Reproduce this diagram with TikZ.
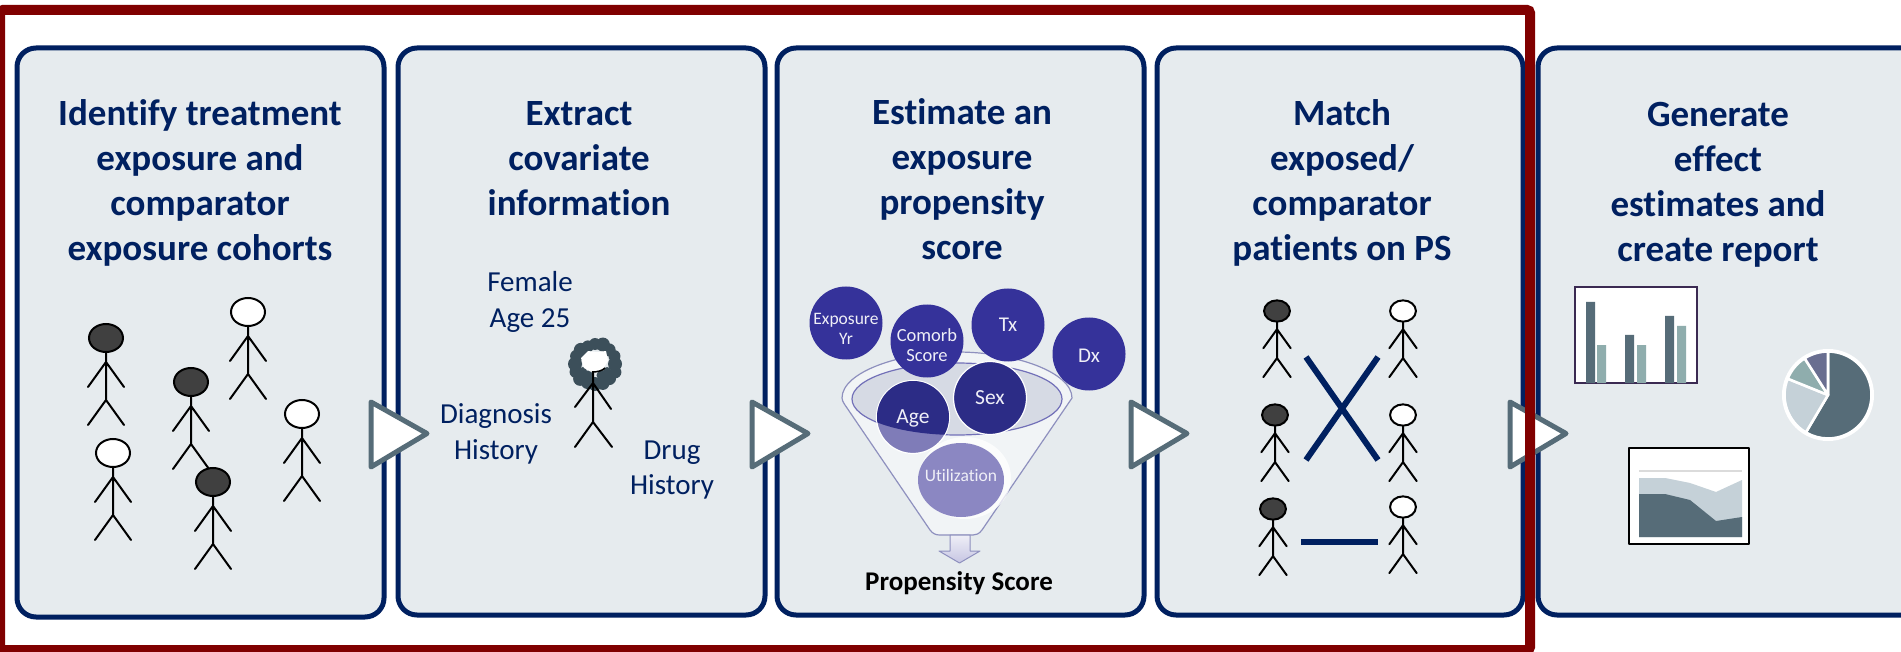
\documentclass[tikz,border=0pt]{standalone}
\usepackage{fontspec}
\setmainfont{Carlito}[RawFeature={-liga}]
\usetikzlibrary{shapes.geometric}
\definecolor{navy}{HTML}{002060}
\definecolor{panelfill}{HTML}{E6EBEE}
\definecolor{slate}{HTML}{566C78}
\definecolor{teal}{HTML}{8FADAD}
\definecolor{mist}{HTML}{C5D1D8}
\definecolor{plum}{HTML}{696E90}
\definecolor{ball}{HTML}{35329A}
\definecolor{balldark}{HTML}{2C2C86}
\definecolor{ballmid}{HTML}{7F7CB8}
\definecolor{balllight}{HTML}{8B87C2}
\definecolor{ringc}{HTML}{8E90BE}
\definecolor{headdark}{HTML}{404040}
\definecolor{hairc}{HTML}{3C4F5A}
\definecolor{frame}{HTML}{800000}
\definecolor{funnelin}{HTML}{D6DAE4}
\definecolor{barframe}{HTML}{3B2A52}
\tikzset{
  panel/.style={draw=navy,fill=panelfill,line width=5pt,rounded corners=19pt},
  paneltitle/.style={text=navy,font=\fontsize{37}{45}\selectfont\bfseries,align=center,inner sep=0pt},
  covar/.style={text=navy,font=\fontsize{29}{35.5}\selectfont,align=center,inner sep=0pt},
  flow/.style={draw=slate,fill=white,line width=5pt,line join=round},
  ballnode/.style={circle,fill=ball,minimum size=73pt,inner sep=0pt,align=center,text=white!92!ball},
  balltext/.style={text=white!92!ball,inner sep=0pt,align=center},
  stick/.style={draw=black,line width=2pt,line cap=round},
  matchline/.style={draw=navy,line width=6pt},
  pics/person/.style args={#1/#2}{code={
    \draw[stick,scale=#2] (0,14) -- (0,62) (-18,49) -- (0,24) -- (18,49) (-18,87) -- (0,62) -- (18,87);
    \draw[fill=#1,draw=black,line width=2pt] (0,0) ellipse [x radius=#2*17, y radius=#2*14];
  }}
}
\begin{document}
\begin{tikzpicture}[x=1pt,y=-1pt]
\useasboundingbox (0,0) rectangle (1901,652);
\fill[white] (0,0) rectangle (1901,652);
% panels
\path[panel] (17,48) rectangle (384,617);
\path[panel] (398,48) rectangle (765,615);
\path[panel] (777,48) rectangle (1144,615);
\path[panel] (1157,48) rectangle (1523,615);
\path[panel] (1538,48) rectangle (1940,615);
% titles
\node[paneltitle] (t1) at (200,182.5) {Identify treatment\\exposure and\\comparator\\exposure cohorts};
\node[paneltitle] (t2) at (579,159) {Extract\\covariate\\information};
\node[paneltitle] (t3) at (962,179.6) {Estimate an\\exposure\\propensity\\score};
\node[paneltitle] (t4) at (1342,183) {Match\\exposed/\\comparator\\patients on PS};
\node[paneltitle] (t5) at (1718,184.5) {Generate\\effect\\estimates and\\create report};
% panel 1 people
\pic at (106,338) {person={headdark/1}};
\pic at (248,312) {person={white/1}};
\pic at (191,382) {person={headdark/1}};
\pic at (302,414) {person={white/1}};
\pic at (113,453) {person={white/1}};
\pic at (213,482) {person={headdark/1}};
% panel 2
\node[covar] (female) at (530,302) {Female\\Age 25};
\node[covar] (diag) at (496,434) {Diagnosis\\History};
\node[covar] (drug) at (672,470) {Drug\\History};
\foreach \a/\r/\s in {0/20/7,22/22/6,45/20/7,68/21/6.5,90/20/7,112/20/6.5,135/21/7,158/21/6,180/20/7,203/20/6.5,225/20/7,248/19/6,270/20/6,292/21/7,315/20/6.5,338/21/6,60/13/5,120/13/5,30/14/4,150/14/4}
  \fill[hairc] ({595+\r*cos(\a)},{364+\r*sin(\a)}) circle[radius=\s];
\fill[white] (581,358) -- (588,351) -- (597,352) -- (606,351) -- (608,361) -- (603,369) -- (593,373) -- (584,368) -- cycle;
\draw[stick] (593,372) -- (593,422) (575,407) -- (593,383) -- (611,409) (575,447) -- (593,422) -- (612,447);
\draw[black,line width=1.5pt] (592,372) .. controls (597,372) and (602,371) .. (605,368);
% panel 3 funnel
\draw[draw=ringc,fill=white!45!panelfill,line width=1.2pt,line join=round]
  (842,398) .. controls (842,372) and (900,352) .. (957,352) .. controls (1014,352) and (1072,372) .. (1072,398)
  -- (982,530) .. controls (979,534) and (976,535) .. (973,535) -- (940,535) .. controls (936,535) and (933,534) .. (930,530) -- (845,405) .. controls (843,402) and (842,400) .. (842,398) -- cycle;
\draw[draw=ball!70!white,fill=funnelin,line width=1.2pt] (957,399) ellipse [x radius=105, y radius=36];
\draw[draw=ringc,top color=white!92!ball,bottom color=ball!28!white,line width=1pt,line join=round]
  (950,535) -- (970,535) -- (970,551) -- (980,551) -- (959.5,563) -- (939,551) -- (950,551) -- cycle;
\node[ballnode] (expo) at (846,323) {};
\node[balltext,font=\fontsize{17.5}{20}\selectfont] (expot) at (846,329) {Exposure\\Yr};
\node[ballnode] (tx) at (1008,325) {\fontsize{21}{22}\selectfont Tx};
\node[ballnode] (dx) at (1089,354) {};
\node[balltext,font=\fontsize{21}{22}\selectfont] (dxt) at (1089,356) {Dx};
\node[ballnode] (comorb) at (927,341) {};
\node[balltext,font=\fontsize{18.5}{20}\selectfont] (comorbt) at (927,345) {Comorb\\Score};
\fill[white,opacity=.75] (965,478) ellipse [x radius=46, y radius=41];
\node[ellipse,fill=balllight,minimum width=86pt,minimum height=74pt,inner sep=0pt] (util) at (961,480) {};
\node[balltext,font=\fontsize{17.5}{19}\selectfont] (utilt) at (961,475) {Utilization};
\node[ballnode,fill=balldark,draw=white,line width=1.2pt] (sex) at (990,398) {\fontsize{21.5}{22}\selectfont Sex};
\node[ballnode,fill=ballmid,draw=white,line width=1.2pt] (agec) at (913,417) {};
\begin{scope}
  \clip (957,399) ellipse [x radius=105, y radius=36];
  \fill[balldark] (913,417) circle[radius=36];
\end{scope}
\node[balltext,font=\fontsize{21.5}{22}\selectfont] (age) at (913,418) {Age};
\node[font=\fontsize{27}{28}\selectfont\bfseries,text=black,inner sep=0pt] (ps) at (959,583) {Propensity Score};
% panel 4
\pic at (1277,311) {person={headdark/.76}};
\pic at (1275,415) {person={headdark/.76}};
\pic at (1273,509) {person={headdark/.76}};
\pic at (1403,311) {person={white/.76}};
\pic at (1403,415) {person={white/.76}};
\pic at (1403,507) {person={white/.76}};
\coordinate (xa) at (1306,357);
\coordinate (xb) at (1378,460);
\coordinate (xc) at (1378,357);
\coordinate (xd) at (1306,460);
\coordinate (ba) at (1301,542);
\coordinate (bb) at (1378,542);
\draw[matchline] (xa) -- (xb);
\draw[matchline] (xc) -- (xd);
\draw[matchline] (ba) -- (bb);
% panel 5 bar chart
\draw[fill=white,draw=barframe,line width=2.4pt] (1575,287) rectangle (1697,383);
\fill[slate] (1586,302) rectangle (1595,383) (1625,335) rectangle (1634,383) (1665,316) rectangle (1674,383);
\fill[teal] (1597,345) rectangle (1606,383) (1637,345) rectangle (1646,383) (1677,326) rectangle (1686,383);
% pie
\begin{scope}[shift={(1828,395)},yscale=-1]
  \fill[white] (0,0) circle[radius=46];
  \filldraw[fill=slate,draw=white,line width=2.6pt,line join=round] (0,0) -- (90:43.5) arc[start angle=90,end angle=-120.6,radius=43.5] -- cycle;
  \filldraw[fill=mist,draw=white,line width=2.6pt,line join=round] (0,0) -- (239.4:43.5) arc[start angle=239.4,end angle=158,radius=43.5] -- cycle;
  \filldraw[fill=teal,draw=white,line width=2.6pt,line join=round] (0,0) -- (158:43.5) arc[start angle=158,end angle=122.5,radius=43.5] -- cycle;
  \filldraw[fill=plum,draw=white,line width=2.6pt,line join=round] (0,0) -- (122.5:43.5) arc[start angle=122.5,end angle=90,radius=43.5] -- cycle;
\end{scope}
% area chart
\draw[fill=white,draw=black,line width=2.8pt,line join=round] (1629,448) rectangle (1749,544);
\draw[black!14,line width=2.4pt] (1639,471) -- (1742,471);
\fill[mist] (1639,478) -- (1665,478) -- (1690,483) -- (1716,492) -- (1742,480) -- (1742,537) -- (1639,537) -- cycle;
\fill[slate] (1639,494) -- (1665,494) -- (1690,500) -- (1716,521) -- (1742,517) -- (1742,537) -- (1639,537) -- cycle;
% flow arrows
\path[flow] (371,402) -- (427,433.5) -- (371,467) -- cycle;
\path[flow] (752,402) -- (808,433.5) -- (752,467) -- cycle;
\path[flow] (1131,402) -- (1187,433.5) -- (1131,467) -- cycle;
\path[flow] (1510,402) -- (1566,433.5) -- (1510,467) -- cycle;
% highlight frame
\draw[draw=frame,line width=10pt,rounded corners=3pt] (0,10) -- (1530,10) -- (1530,650) -- (0,650) -- cycle;
\end{tikzpicture}
\end{document}
